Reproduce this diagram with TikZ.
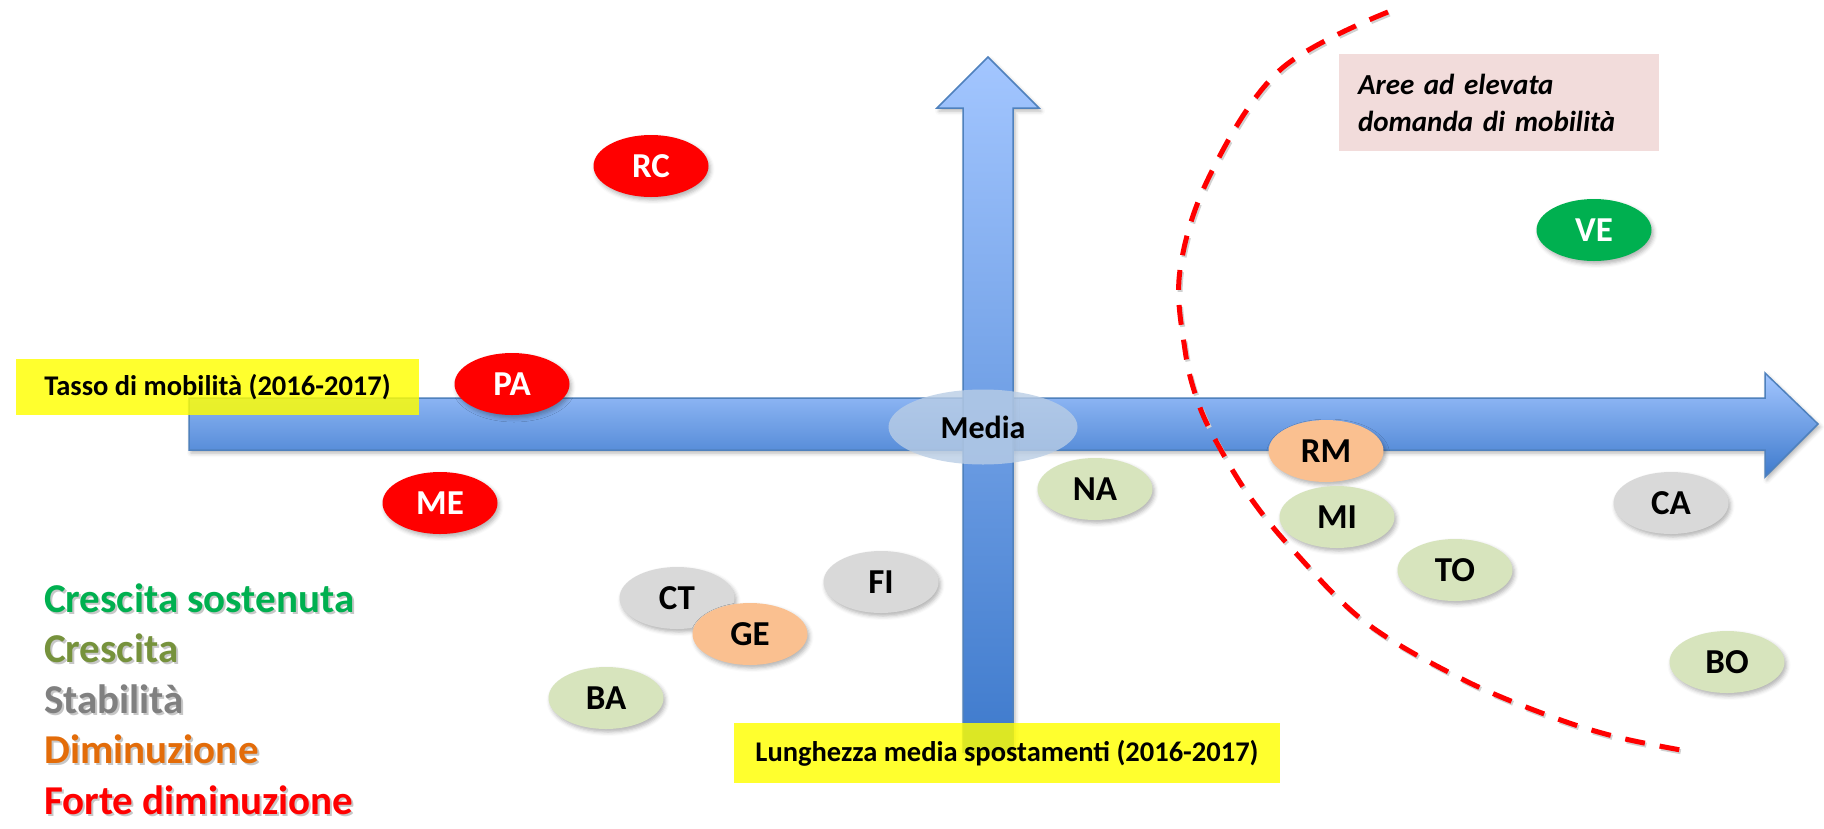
\documentclass[tikz,border=0pt]{standalone}
\usepackage{fontspec}
\setmainfont{Carlito}
\usetikzlibrary{shapes.geometric,shadows.blur}

\definecolor{fdred}{RGB}{255,0,0}
\definecolor{csgreen}{RGB}{0,176,80}
\definecolor{crtext}{RGB}{118,146,60}
\definecolor{crfill}{RGB}{215,228,189}
\definecolor{sttext}{RGB}{128,128,128}
\definecolor{stfill}{RGB}{217,217,217}
\definecolor{dmtext}{RGB}{227,108,9}
\definecolor{dmfill}{RGB}{250,192,144}
\definecolor{axisedge}{RGB}{79,129,189}
\definecolor{axistop}{RGB}{163,198,255}
\definecolor{axisbot}{RGB}{62,122,204}
\definecolor{meanfill}{RGB}{185,205,229}
\definecolor{notefill}{RGB}{242,220,219}
\definecolor{labelyellow}{RGB}{255,255,0}

% coloured text with a soft grey copy behind it
\newcommand\castshadow[2]{\makebox[0pt][l]{\kern2pt\raisebox{-2pt}{\color{black!22}#2}}{\color{#1}#2}}

\tikzset{
  softshadow/.style={blur shadow={shadow xshift=2pt, shadow yshift=-3pt,
      shadow blur radius=4pt, shadow opacity=30}},
  city/.style={ellipse, minimum width=115pt, minimum height=62pt, inner sep=0pt,
      font=\fontsize{35}{40}\selectfont\bfseries, softshadow},
  fortedim/.style={city, fill=fdred, text=white},
  crescsost/.style={city, fill=csgreen, text=white},
  cresc/.style={city, fill=crfill, text=black},
  stab/.style={city, fill=stfill, text=black},
  dimin/.style={city, fill=dmfill, text=black},
  axisarrow/.style={draw=axisedge, line width=1.5pt, top color=axistop,
      bottom color=axisbot, softshadow},
  axislabel/.style={fill=labelyellow, fill opacity=0.82, text opacity=1,
      inner sep=0pt, font=\fontsize{28.5}{32}\selectfont\bfseries},
  legendentry/.style={anchor=base west, inner sep=0pt,
      font=\fontsize{41}{48}\selectfont\bfseries},
  regionline/.style={draw=fdred, line width=5pt, dash pattern=on 20pt off 15pt,
      preaction={draw=black!18, line width=5pt, dash pattern=on 20pt off 15pt,
        transform canvas={shift={(1.5pt,-2pt)}}}}
}

\begin{document}
\begin{tikzpicture}[x=1pt,y=-1pt]
\useasboundingbox (0,0) rectangle (1824,828);

% horizontal axis
\path[axisarrow] (189,398) -- (1765,398) -- (1765,373) -- (1818,424)
  -- (1765,477) -- (1765,450) -- (189,450) -- cycle;
% vertical axis
\path[axisarrow] (963,752) -- (963,108) -- (937,108) -- (988,57)
  -- (1039,108) -- (1013,108) -- (1013,752) -- cycle;

% axis titles
\node[axislabel, minimum width=403pt, minimum height=56pt] (xlabel) at (217.5,387)
  {Tasso di mobilità (2016-2017)};
\node[axislabel, minimum width=546pt, minimum height=60pt] (ylabel) at (1007,753)
  {Lunghezza media spostamenti (2016-2017)};

% mean point
\node[ellipse, minimum width=189pt, minimum height=75pt, inner sep=0pt,
  fill=meanfill, fill opacity=0.8, text opacity=1,
  font=\fontsize{32}{36}\selectfont\bfseries] (media) at (983,427) {Media};

% boundary of the high-demand region
\draw[regionline] plot[smooth, tension=0.6] coordinates {
  (1388,12) (1280,70) (1210,175) (1180,270) (1185,350) (1199,405)
  (1222,452) (1252,500) (1293,550) (1365,622) (1460,678) (1547,715)
  (1617,737) (1692,752)};

% note box
\node[fill=notefill, minimum width=320pt, minimum height=97pt, inner xsep=19pt,
  text width=282pt, align=left,
  font=\fontsize{29}{37}\selectfont\bfseries\itshape] (note) at (1499,102.5)
  {Aree ad elevata\\domanda di mobilità};

% cities
\node[fortedim]  (RC) at (651,166) {RC};
\node[crescsost] (VE) at (1594,230) {VE};
\node[fortedim]  (PA) at (512,384) {PA};
\node[fortedim]  (ME) at (440,503) {ME};
\node[cresc]     (NA) at (1095,489) {NA};
\node[dimin]     (RM) at (1326,451) {RM};
\node[cresc]     (MI) at (1337,517) {MI};
\node[cresc]     (TO) at (1455,570) {TO};
\node[stab]      (CA) at (1671,503) {CA};
\node[cresc]     (BO) at (1727,662) {BO};
\node[stab]      (FI) at (881,582) {FI};
\node[stab]      (CT) at (677,598) {CT};
\node[dimin]     (GE) at (750,634) {GE};
\node[cresc]     (BA) at (606,698) {BA};

% legend
\node[legendentry] (lg1) at (44,612) {\castshadow{csgreen}{Crescita sostenuta}};
\node[legendentry] (lg2) at (44,662) {\castshadow{crtext}{Crescita}};
\node[legendentry] (lg3) at (44,713) {\castshadow{sttext}{Stabilità}};
\node[legendentry] (lg4) at (44,763) {\castshadow{dmtext}{Diminuzione}};
\node[legendentry] (lg5) at (44,814) {\castshadow{fdred}{Forte diminuzione}};
\end{tikzpicture}
\end{document}
